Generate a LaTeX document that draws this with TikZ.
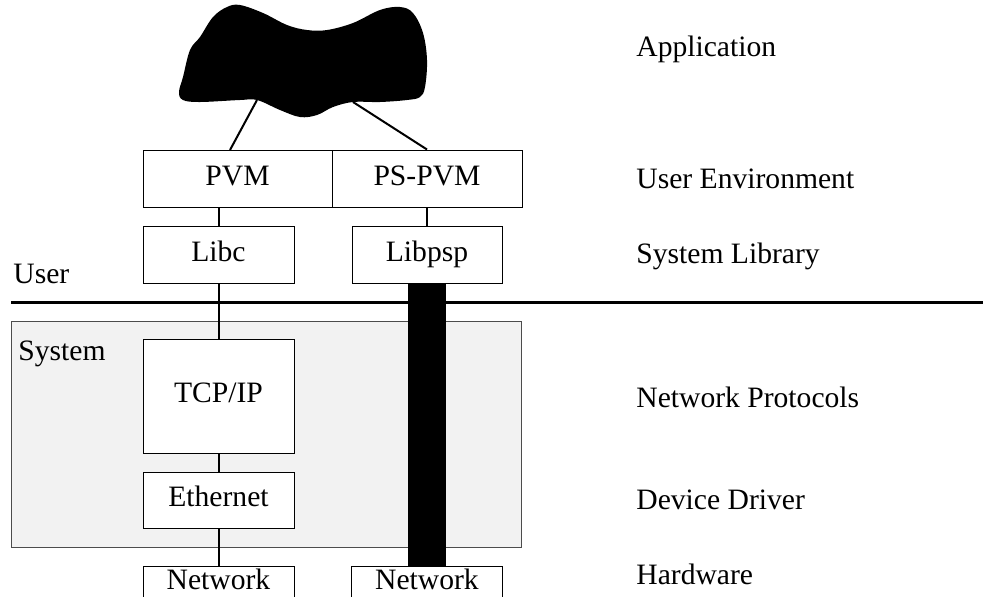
\documentclass[tikz,border=0pt]{standalone}
\usepackage{fontspec}
\setmainfont{Liberation Serif}
\usetikzlibrary{positioning}

\pgfdeclarelayer{onder}
\pgfsetlayers{onder,main}

\begin{document}
\begin{tikzpicture}[x=0.5pt, y=-0.5pt,
    every node/.style={font=\fontsize{14.8}{17}\selectfont},
    laag/.style={draw, fill=white, line width=0.5pt, inner sep=0pt,
                 text height=0.9em, text depth=0.24em},
    niveau/.style={anchor=base west, inner sep=0pt},
    verb/.style={line width=1pt}]
  \def\px{0.5pt} % one unit of the grid

  \useasboundingbox (0,0) rectangle (983,596);

  % kernel part
  \begin{pgfonlayer}{onder}
    \fill[black!5] (11,321) rectangle (521,547);
    \draw[black!70, line width=0.5pt] (11,321) rectangle (521,547);
  \end{pgfonlayer}
  \node[niveau] (sys) at (18,360) {System};

  % user / system border
  \draw[line width=1.5pt] (11,302) -- (983,302);
  \node[niveau] (usr) at (13,283) {User};

  % the application
  \fill[black] plot[smooth cycle, tension=0.6] coordinates {
    (190,50) (200,37) (213,17) (227,7) (240,5) (263,13) (287,25) (307,30)
    (327,30) (353,23) (380,10) (400,7) (413,13) (423,33) (427,60) (425,87)
    (420,97) (407,100) (380,102) (353,102) (333,107) (317,115) (300,117)
    (280,110) (257,100) (240,100) (200,102) (183,100) (179,92) (183,77)};
  \coordinate (appL) at (257,100);
  \coordinate (appR) at (353,102);

  % layers
  \node[laag, minimum width=189*\px, minimum height=57*\px] (pvm) at (237.5,178.5) {PVM};
  \node[laag, minimum width=190*\px, minimum height=57*\px] (pspvm) at (427,178.5) {PS-PVM};
  \node[laag, minimum width=151*\px, minimum height=57*\px] (libc) at (218.5,254.5) {Libc};
  \node[laag, minimum width=150*\px, minimum height=57*\px] (libpsp) at (427,254.5) {Libpsp};
  \node[laag, minimum width=151*\px, minimum height=114*\px] (tcpip) at (218.5,396) {TCP/IP};
  \node[laag, minimum width=151*\px, minimum height=56*\px] (eth) at (218.5,500) {Ethernet};
  \node[laag, minimum width=151*\px, minimum height=34*\px] (netA) at (218.5,583) {Network};
  \node[laag, minimum width=151*\px, minimum height=34*\px] (netB) at (427,583) {Network};
  \coordinate (pvmin) at (230,150);

  % connections, under the boxes
  \begin{pgfonlayer}{onder}
    \draw[verb] (appL) -- (pvmin);
    \draw[verb] (appR) -- (pspvm.north);
    \draw[verb] (libc.north) -- (libc.north |- pvm.south);
    \draw[verb] (libc) -- (tcpip);
    \draw[verb] (tcpip) -- (eth);
    \draw[verb] (eth) -- (netA);
    \draw[verb] (pspvm.south) -- (libpsp.north);
    \draw[line width=19pt] (libpsp.south) -- (netB.north);
  \end{pgfonlayer}

  % level names
  \node[niveau] (lApp) at (636,56) {Application};
  \node[niveau] (lEnv) at (636,188) {User Environment};
  \node[niveau] (lLib) at (636,263) {System Library};
  \node[niveau] (lNet) at (636,407) {Network Protocols};
  \node[niveau] (lDrv) at (636,509) {Device Driver};
  \node[niveau] (lHw) at (636,584) {Hardware};
\end{tikzpicture}
\end{document}
